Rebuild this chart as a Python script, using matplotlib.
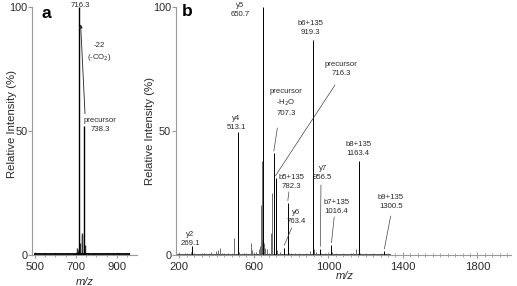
import numpy as np
import matplotlib.pyplot as plt
from matplotlib.ticker import MultipleLocator

plt.rcParams['font.family'] = ['Liberation Sans', 'DejaVu Sans']

# ---------------- panel a data ----------------
a_mz = [716.3, 738.3]
a_int = [100, 52]
a_small_mz = [498, 520, 545, 570, 600, 630, 660, 690, 705, 712, 722, 728, 732, 742, 760, 790, 820, 850, 880, 910, 940, 960]
a_small_int = [0.8, 0.6, 0.7, 0.6, 0.7, 0.6, 0.8, 0.9, 3, 2, 5, 8, 9, 4, 1.0, 0.7, 0.6, 0.8, 0.7, 0.9, 0.6, 0.8]

# ---------------- panel b data ----------------
b_names = ['y2', 'y4', 'y5', 'precursor\n-H$_2$O', 'precursor', 'y6', 'b5+135',
           'b6+135', 'y7', 'b7+135', 'b8+135', 'b9+135']
b_mz = [269.1, 513.1, 650.7, 707.3, 716.3, 763.4, 782.3, 919.3, 956.5, 1016.4, 1163.4, 1300.5]
b_int = [3.5, 49.7, 100, 41, 31, 3, 21, 86.7, 2.5, 4, 38, 1.5]
# label block centre (m/z, %) and connector start (None = no connector)
b_lab_pos = [(257, 6.5), (504, 53.4), (525, 98.6), (772, 61.5), (1067, 74.8), (828, 15.3),
             (803, 29.6), (901, 91.7), (969, 32.9), (1044, 19.4), (1159, 42.7), (1334, 21.2)]
b_conn = [None, None, None, (726, 51.2), (1035, 68.5), (803, 10.9), (788, 25.4),
          None, (960, 28.2), (1031, 15.3), None, (1334, 15.7)]

b_small_mz = [230, 260, 300, 330, 370, 395, 410, 420, 430, 460, 493, 520, 545, 583, 592, 610,
              625, 632, 637, 642, 646, 655, 660, 670, 690, 699, 725, 740, 790, 820, 850, 900,
              925, 935, 980, 1020, 1040, 1080, 1130, 1150, 1170, 1200, 1250]
b_small_int = [1.0, 1.2, 0.6, 0.8, 1.2, 1.5, 2.2, 2.8, 1.0, 0.8, 7, 1.2, 0.8, 5, 2, 1.2,
               2.5, 3.5, 20, 6, 38, 5, 3, 2.5, 9, 25, 2, 1.2, 1.0, 0.8, 0.6, 1.5,
               2.5, 1.2, 0.8, 1.2, 0.6, 0.5, 0.8, 2.5, 0.8, 0.4, 0.3]
b_baseline = [190, 1330]

W, H = 517, 286
fig = plt.figure(figsize=(W / 100, H / 100), dpi=100)
ax_a = fig.add_axes([32.3 / W, 1 - 255 / H, 104.4 / W, 248 / H])
ax_b = fig.add_axes([176 / W, 1 - 255 / H, 335 / W, 248 / H])

spine_c = '#9a9a9a'
txt_c = '#2a2a2a'
for ax in (ax_a, ax_b):
    for s in ['top', 'right']:
        ax.spines[s].set_visible(False)
    for s in ['left', 'bottom']:
        ax.spines[s].set_color(spine_c)
        ax.spines[s].set_linewidth(0.8)
    ax.set_ylim(0, 100)
    ax.set_yticks([0, 50, 100])
    ax.tick_params(axis='y', length=3, pad=0.5, color=spine_c, labelsize=7.8, labelcolor=txt_c)
    ax.tick_params(axis='x', which='major', direction='inout', length=4, pad=3,
                   color=spine_c, labelsize=8.2, labelcolor=txt_c)
    ax.tick_params(axis='x', which='minor', direction='inout', length=2.5, color=spine_c)
    ax.set_ylabel('Relative Intensity (%)', fontsize=8.2, color=txt_c)

# ---- panel a ----
ax_a.set_xlim(487, 997)
ax_a.set_xticks([500, 700, 900])
ax_a.xaxis.set_minor_locator(MultipleLocator(50))
ax_a.vlines(a_small_mz, 0, a_small_int, color='#333333', lw=1.0)
ax_a.plot([min(a_small_mz), max(a_small_mz)], [0.4, 0.4], color='black', lw=1.3)
ax_a.vlines(a_mz, 0, a_int, color='black', lw=1.0)
ax_a.text(723, 100.8, '716.3', fontsize=5.6, ha='center', va='center', color=txt_c, clip_on=False)
ax_a.text(814, 81.5, '-22\n(-CO$_2$)', fontsize=5.6, ha='center', va='center', color=txt_c,
          linespacing=1.45)
ax_a.text(818, 52.4, 'precursor\n738.3', fontsize=5.6, ha='center', va='center', color=txt_c,
          linespacing=1.45)
ax_a.annotate('', xy=(723, 93), xytext=(744.5, 57),
              arrowprops=dict(arrowstyle='-|>', color='#222222', lw=0.6,
                              mutation_scale=5, shrinkA=0, shrinkB=0))
ax_a.yaxis.set_label_coords(-0.15, 0.53)

# ---- panel b ----
ax_b.set_xlim(182, 1980)
ax_b.set_xticks([200, 600, 1000, 1400, 1800])
ax_b.xaxis.set_minor_locator(MultipleLocator(40))
ax_b.plot(b_baseline, [0.3, 0.3], color='#333333', lw=0.6)
ax_b.vlines(b_small_mz, 0, b_small_int, color='#555555', lw=0.6)
ax_b.vlines(b_mz, 0, b_int, color='black', lw=0.7)
for name, mz, inten, lab, conn in zip(b_names, b_mz, b_int, b_lab_pos, b_conn):
    ax_b.text(lab[0], lab[1], f'{name}\n{mz}', fontsize=5.6, ha='center', va='center',
              color=txt_c, linespacing=1.4, clip_on=False)
    if conn is not None:
        ax_b.plot([conn[0], mz], [conn[1], inten + 1], color='#444444', lw=0.5)
ax_b.yaxis.set_label_coords(-0.062, 0.5)

fig.text(46.7 / W, 1 - 13 / H, 'a', fontsize=12.5, fontweight='bold', ha='center', va='center')
fig.text(187 / W, 1 - 11 / H, 'b', fontsize=12.5, fontweight='bold', ha='center', va='center')
fig.text(85 / W, 1 - 282 / H, 'm/z', fontsize=8, style='italic', ha='center', va='center', color=txt_c)
fig.text(345 / W, 1 - 276 / H, 'm/z', fontsize=8, style='italic', ha='center', va='center', color=txt_c)

fig.savefig('out.png', dpi=100)
